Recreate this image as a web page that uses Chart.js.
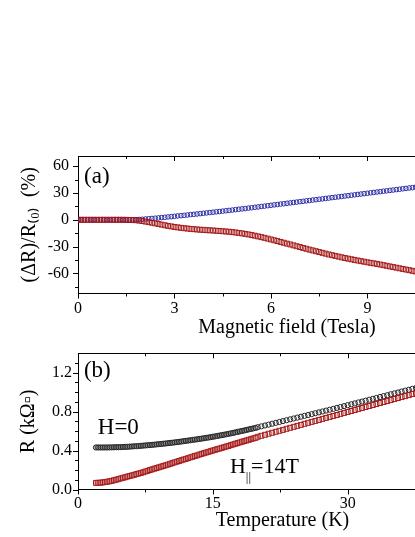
<!DOCTYPE html>
<html><head><meta charset="utf-8">
<script src="https://cdn.jsdelivr.net/npm/chart.js@4.4.1/dist/chart.umd.min.js"></script>
<style>
html,body{margin:0;padding:0;background:#fff;overflow:hidden;width:415px;height:537px;}
#wrap{position:relative;width:415px;height:537px;overflow:hidden;background:#fff;}
canvas{position:absolute;left:0;}
</style></head><body>
<div id="wrap">
<canvas id="cA" width="501" height="198" style="top:146px;width:501px;height:198px"></canvas>
<canvas id="cB" width="492" height="197" style="top:340px;width:492px;height:197px"></canvas>
</div>
<script>
// ---------- Panel (a): magnetoresistance vs field ----------
const fieldTesla = [0,0.1,0.2,0.3,0.4,0.5,0.6,0.7,0.8,0.9,1,1.1,1.2,1.3,1.4,1.5,1.6,1.7,1.8,1.9,2,2.1,2.2,2.3,2.4,2.5,2.6,2.7,2.8,2.9,3,3.1,3.2,3.3,3.4,3.5,3.6,3.7,3.8,3.9,4,4.1,4.2,4.3,4.4,4.5,4.6,4.7,4.8,4.9,5,5.1,5.2,5.3,5.4,5.5,5.6,5.7,5.8,5.9,6,6.1,6.2,6.3,6.4,6.5,6.6,6.7,6.8,6.9,7,7.1,7.2,7.3,7.4,7.5,7.6,7.7,7.8,7.9,8,8.1,8.2,8.3,8.4,8.5,8.6,8.7,8.8,8.9,9,9.1,9.2,9.3,9.4,9.5,9.6,9.7,9.8,9.9,10,10.1,10.2,10.3,10.4,10.5,10.6];
const mrCircles = [0,0,0,0,0,0,0,0,0,0,0,0,0,0,0,0,0,0.1,0.2,0.4,0.6,0.9,1.2,1.5,1.8,2.1,2.5,2.8,3.2,3.5,3.9,4.3,4.6,5.0,5.4,5.8,6.1,6.5,6.9,7.3,7.7,8.1,8.5,8.9,9.3,9.7,10.1,10.5,10.9,11.4,11.8,12.2,12.6,13.1,13.5,14.0,14.4,14.9,15.3,15.8,16.2,16.7,17.1,17.6,18.0,18.5,18.9,19.4,19.8,20.3,20.7,21.2,21.6,22.1,22.5,23.0,23.4,23.9,24.3,24.8,25.2,25.7,26.1,26.6,27.0,27.5,27.9,28.4,28.8,29.3,29.7,30.2,30.6,31.1,31.5,32.0,32.4,32.9,33.3,33.8,34.2,34.7,35.1,35.6,36.0,36.5,36.9];
const mrSquares = [0,0,0,0,0,0,0,0,0,0,0,0,0,0,0,-0.1,-0.2,-0.3,-0.5,-0.9,-1.4,-2.0,-2.6,-3.3,-4.0,-4.7,-5.4,-6.1,-6.8,-7.4,-8.0,-8.5,-9.0,-9.4,-9.8,-10.2,-10.5,-10.8,-11.1,-11.3,-11.6,-11.8,-12.0,-12.3,-12.5,-12.8,-13.1,-13.4,-13.8,-14.2,-14.7,-15.2,-15.8,-16.4,-17.1,-17.8,-18.6,-19.4,-20.2,-21.1,-22.0,-22.9,-23.8,-24.8,-25.7,-26.7,-27.6,-28.6,-29.6,-30.5,-31.5,-32.4,-33.4,-34.3,-35.2,-36.1,-37.0,-37.9,-38.8,-39.6,-40.4,-41.2,-42.0,-42.8,-43.5,-44.2,-44.9,-45.6,-46.3,-46.9,-47.6,-48.2,-48.8,-49.4,-50.1,-50.8,-51.5,-52.2,-52.9,-53.6,-54.3,-55.0,-55.7,-56.4,-57.1,-57.8,-58.5];

// ---------- Panel (b): sheet resistance vs temperature ----------
const tempLow = [2,2.25,2.5,2.75,3,3.25,3.5,3.75,4,4.25,4.5,4.75,5,5.25,5.5,5.75,6,6.25,6.5,6.75,7,7.25,7.5,7.75,8,8.25,8.5,8.75,9,9.25,9.5,9.75,10,10.25,10.5,10.75,11,11.25,11.5,11.75,12,12.25,12.5,12.75,13,13.25,13.5,13.75,14,14.25,14.5,14.75,15,15.25,15.5,15.75,16,16.25,16.5,16.75,17,17.25,17.5,17.75,18,18.25,18.5,18.75,19,19.25,19.5,19.75];
const rH0Low = [0.432,0.432,0.432,0.432,0.432,0.432,0.433,0.433,0.434,0.435,0.435,0.436,0.437,0.438,0.439,0.441,0.442,0.444,0.445,0.447,0.449,0.451,0.453,0.455,0.457,0.459,0.461,0.464,0.466,0.468,0.471,0.473,0.476,0.479,0.481,0.484,0.487,0.490,0.493,0.497,0.500,0.503,0.506,0.510,0.513,0.516,0.520,0.523,0.527,0.531,0.534,0.538,0.542,0.546,0.550,0.555,0.559,0.563,0.568,0.572,0.577,0.582,0.587,0.592,0.597,0.602,0.607,0.612,0.618,0.623,0.628,0.633];
const rH14Low = [0.068,0.069,0.070,0.073,0.076,0.080,0.084,0.089,0.095,0.101,0.107,0.114,0.120,0.126,0.133,0.139,0.145,0.151,0.158,0.164,0.170,0.177,0.185,0.192,0.200,0.207,0.214,0.221,0.228,0.235,0.242,0.249,0.256,0.264,0.271,0.279,0.286,0.293,0.301,0.308,0.315,0.322,0.330,0.337,0.344,0.351,0.359,0.366,0.373,0.380,0.387,0.394,0.401,0.408,0.415,0.421,0.428,0.435,0.442,0.448,0.456,0.463,0.470,0.477,0.484,0.491,0.498,0.504,0.511,0.518,0.525,0.531];
const tempHigh = [20,20.4,20.8,21.2,21.6,22,22.4,22.8,23.2,23.6,24,24.4,24.8,25.2,25.6,26,26.4,26.8,27.2,27.6,28,28.4,28.8,29.2,29.6,30,30.4,30.8,31.2,31.6,32,32.4,32.8,33.2,33.6,34,34.4,34.8,35.2,35.6,36,36.4,36.8,37.2,37.6];
const rH0High = [0.640,0.649,0.658,0.667,0.676,0.685,0.694,0.703,0.712,0.721,0.730,0.739,0.748,0.757,0.766,0.775,0.784,0.793,0.802,0.811,0.820,0.829,0.839,0.848,0.857,0.867,0.876,0.885,0.895,0.904,0.913,0.923,0.932,0.941,0.951,0.960,0.969,0.979,0.988,0.997,1.007,1.016,1.025,1.035,1.044];
const rH14High = [0.542,0.552,0.562,0.573,0.583,0.593,0.603,0.613,0.624,0.634,0.644,0.654,0.664,0.675,0.685,0.695,0.705,0.715,0.726,0.736,0.746,0.756,0.766,0.777,0.787,0.797,0.807,0.817,0.828,0.838,0.848,0.858,0.868,0.879,0.889,0.899,0.909,0.919,0.930,0.940,0.950,0.960,0.970,0.981,0.991];

// ---------- ticks ----------
const xTicksA = [0,3,6,9,12];
const xMinorA = [1.5,4.5,7.5,10.5];
const yTicksA = [-60,-30,0,30,60];
const yMinorA = [-75,-45,-15,15,45];
const xTicksB = [0,15,30];
const xMinorB = [7.5,22.5,37.5];
const yTicksB = [0,0.4,0.8,1.2];
const yMinorB = [0.1,0.2,0.3,0.5,0.6,0.7,0.9,1.0,1.1,1.3];

const FONT = '"Liberation Serif", "Times New Roman", Times, serif';
const BLUE = 'rgb(45,45,165)';
const RED = 'rgb(165,25,25)';
const BLACK = 'rgb(35,35,35)';

const zip = (xs, ys) => xs.map((x, i) => ({x: x, y: ys[i]}));

const framePlugin = {
  id: 'frame',
  afterDraw(chart, args, o) {
    const {ctx, chartArea: a, scales} = chart;
    const xs = scales.x, ys = scales.y;
    ctx.save();
    ctx.strokeStyle = '#000';
    ctx.lineWidth = 1;
    ctx.beginPath();
    const top = Math.round(a.top) + 0.5;
    ctx.moveTo(a.left, top); ctx.lineTo(chart.width, top);
    const xt = (vals, len) => vals.forEach(v => {
      const p = Math.round(xs.getPixelForValue(v)) + 0.5;
      ctx.moveTo(p, a.bottom); ctx.lineTo(p, a.bottom + len);
      ctx.moveTo(p, a.top); ctx.lineTo(p, a.top + len);
    });
    const yt = (vals, len) => vals.forEach(v => {
      const p = Math.round(ys.getPixelForValue(v)) + 0.5;
      ctx.moveTo(a.left - len, p); ctx.lineTo(a.left, p);
    });
    xt(o.xMajor, 5); xt(o.xMinor, 3);
    yt(o.yMajor, 5); yt(o.yMinor, 3);
    ctx.stroke();
    ctx.fillStyle = '#000';
    ctx.textAlign = 'left';
    ctx.textBaseline = 'alphabetic';
    (o.labels || []).forEach(l => {
      let cx = xs.getPixelForValue(l.x);
      const cy = ys.getPixelForValue(l.y);
      l.parts.forEach(p => {
        ctx.font = p.size + 'px ' + FONT;
        ctx.fillText(p.t, cx, cy + (p.dy || 0));
        cx += ctx.measureText(p.t).width;
      });
    });
    ctx.restore();
  }
};

function axisX(min, max, ticks, title, pad, height) {
  return {
    type: 'linear', min: min, max: max,
    border: {display: true, color: '#000', width: 1},
    grid: {display: false, drawTicks: false},
    ticks: {autoSkip: false, maxRotation: 0, padding: pad, color: '#000',
            font: {family: FONT, size: 16}, callback: v => String(v)},
    afterBuildTicks: s => { s.ticks = ticks.map(v => ({value: v})); },
    afterFit: s => { s.height = height; s.paddingLeft = 0; s.paddingRight = 0; },
    title: {display: true, text: title, color: '#000', font: {family: FONT, size: 20},
            padding: {top: 0, bottom: 4}}
  };
}
function axisY(min, max, ticks, title, pad, titlePad, fmt) {
  return {
    type: 'linear', min: min, max: max,
    border: {display: true, color: '#000', width: 1},
    grid: {display: false, drawTicks: false},
    ticks: {autoSkip: false, padding: pad, color: '#000',
            font: {family: FONT, size: 16}, callback: fmt},
    afterBuildTicks: s => { s.ticks = ticks.map(v => ({value: v})); },
    afterFit: s => { s.width = 78; s.paddingTop = 0; s.paddingBottom = 0; },
    title: {display: true, text: title, color: '#000', font: {family: FONT, size: 20},
            padding: {top: titlePad, bottom: 0}}
  };
}

const common = {
  responsive: false, animation: false, events: [],
  plugins: {legend: {display: false}, tooltip: {enabled: false}}
};

new Chart(document.getElementById('cA'), {
  type: 'scatter',
  data: {datasets: [
    {label: 'squares', data: zip(fieldTesla, mrSquares), pointStyle: 'rect', pointRadius: 3.5,
     borderColor: RED, backgroundColor: 'rgba(0,0,0,0)', borderWidth: 1, showLine: false},
    {label: 'circles', data: zip(fieldTesla, mrCircles), pointStyle: 'circle', pointRadius: 2.3,
     borderColor: BLUE, backgroundColor: 'rgba(0,0,0,0)', borderWidth: 1, showLine: false}
  ]},
  options: Object.assign({}, common, {
    layout: {padding: {top: 10, left: 0, right: 0, bottom: 0}},
    scales: {
      x: axisX(0, 13, xTicksA, 'Magnetic field (Tesla)', 6, 50.5),
      y: axisY(-82.5, 71.4, yTicksA, '(ΔR)/R₍₀₎  (%)', 9, 18, v => String(v))
    },
    plugins: Object.assign({}, common.plugins, {
      frame: {xMajor: xTicksA, xMinor: xMinorA, yMajor: yTicksA, yMinor: yMinorA,
              labels: [{x: 0.19, y: 41.7, parts: [{t: '(a)', size: 23}]}]}
    })
  }),
  plugins: [framePlugin]
});

new Chart(document.getElementById('cB'), {
  type: 'scatter',
  data: {datasets: [
    {label: 'H∥=14T low', data: zip(tempLow, rH14Low), pointStyle: 'rect', pointRadius: 3.5,
     borderColor: RED, backgroundColor: 'rgba(205,120,120,0.55)', borderWidth: 1, showLine: false},
    {label: 'H∥=14T high', data: zip(tempHigh, rH14High), pointStyle: 'rect', pointRadius: 3.5,
     borderColor: RED, backgroundColor: 'rgba(0,0,0,0)', borderWidth: 1, showLine: false},
    {label: 'H=0 low', data: zip(tempLow, rH0Low), pointStyle: 'circle', pointRadius: 2.6,
     borderColor: BLACK, backgroundColor: 'rgba(110,110,110,0.55)', borderWidth: 1, showLine: false},
    {label: 'H=0 high', data: zip(tempHigh, rH0High), pointStyle: 'circle', pointRadius: 2.6,
     borderColor: BLACK, backgroundColor: 'rgba(0,0,0,0)', borderWidth: 1, showLine: false}
  ]},
  options: Object.assign({}, common, {
    layout: {padding: {top: 13.3, left: 0, right: 0, bottom: 0}},
    scales: {
      x: axisX(0, 45.5, xTicksB, 'Temperature (K)', 5, 47.5),
      y: axisY(0, 1.4, yTicksB, 'R (kΩ▫)', 6, 16.5, v => v.toFixed(1))
    },
    plugins: Object.assign({}, common.plugins, {
      frame: {xMajor: xTicksB, xMinor: xMinorB, yMajor: yTicksB, yMinor: yMinorB,
              labels: [
                {x: 0.66, y: 1.155, parts: [{t: '(b)', size: 23}]},
                {x: 2.2, y: 0.574, parts: [{t: 'H=0', size: 23}]},
                {x: 16.9, y: 0.174, parts: [{t: 'H', size: 22}, {t: '||', size: 13, dy: 8}, {t: '=14T', size: 22}]}
              ]}
    })
  }),
  plugins: [framePlugin]
});
</script>
</body></html>
